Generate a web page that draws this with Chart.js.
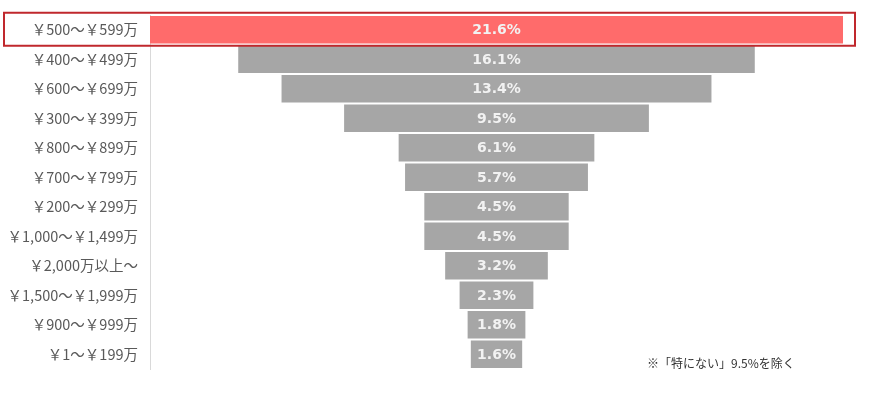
<!DOCTYPE html>
<html>
<head>
<meta charset="utf-8">
<script src="https://cdn.jsdelivr.net/npm/chart.js@4.4.1/dist/chart.umd.min.js"></script>
<style>
  body { margin: 0; background: #fff; }
  #wrap { position: relative; width: 881px; height: 404px; }
  #note {
    position: absolute; left: 647px; top: 354px;
    font: 12px "Noto Sans CJK JP", sans-serif; color: #333;
  }
</style>
</head>
<body>
<div id="wrap">
  <canvas id="funnel" width="881" height="404"></canvas>
  <div id="note">※「特にない」9.5%を除く</div>
</div>
<script>
const categories = [
  '￥500～￥599万', '￥400～￥499万', '￥600～￥699万', '￥300～￥399万',
  '￥800～￥899万', '￥700～￥799万', '￥200～￥299万', '￥1,000～￥1,499万',
  '￥2,000万以上～', '￥1,500～￥1,999万', '￥900～￥999万', '￥1～￥199万',
];
const shares = [21.6, 16.1, 13.4, 9.5, 6.1, 5.7, 4.5, 4.5, 3.2, 2.3, 1.8, 1.6];
const highlightIndex = 0;

const RED = '#ff6b6b';
const GRAY = '#a6a6a6';

// each bar is centred on 0 so the bars form a funnel
const ranges = shares.map((v) => [-v / 2, v / 2]);

const barLabels = {
  id: 'barLabels',
  afterDatasetsDraw(chart) {
    const { ctx } = chart;
    const meta = chart.getDatasetMeta(0);
    ctx.save();
    ctx.font = 'bold 14px "DejaVu Sans", Verdana, sans-serif';
    ctx.fillStyle = '#f2f2f2';
    ctx.textAlign = 'center';
    ctx.textBaseline = 'middle';
    meta.data.forEach((bar, i) => {
      ctx.fillText(`${shares[i].toFixed(1)}%`, (bar.x + bar.base) / 2, bar.y + 1);
    });
    ctx.restore();
  },
};

const highlightBox = {
  id: 'highlightBox',
  afterDraw(chart) {
    const { ctx, chartArea } = chart;
    const yScale = chart.scales.y;
    const yc = yScale.getPixelForValue(highlightIndex);
    ctx.save();
    ctx.strokeStyle = '#c0282d';
    ctx.lineWidth = 2;
    ctx.strokeRect(4, yc - 17, chartArea.right + 12 - 4, 33);
    ctx.restore();
  },
};

new Chart(document.getElementById('funnel'), {
  type: 'bar',
  data: {
    labels: categories,
    datasets: [{
      data: ranges,
      backgroundColor: shares.map((v, i) => (i === highlightIndex ? RED : GRAY)),
      borderWidth: 0,
      barPercentage: 0.94,
      categoryPercentage: 1,
    }],
  },
  options: {
    indexAxis: 'y',
    responsive: false,
    animation: false,
    layout: { padding: { left: 0, right: 38, top: 15, bottom: 35 } },
    plugins: {
      legend: { display: false },
      tooltip: { enabled: false },
    },
    scales: {
      x: {
        display: false,
        min: -10.8,
        max: 10.8,
      },
      y: {
        afterFit: (scale) => {
          scale.width = 150;
          scale.paddingTop = 0;
          scale.paddingBottom = 0;
        },
        grid: { display: false, drawTicks: false },
        border: { display: true, color: '#d9d9d9', width: 1 },
        ticks: {
          padding: 12,
          color: '#595959',
          font: { family: '"Noto Sans CJK JP", sans-serif', size: 14.5 },
        },
      },
    },
  },
  plugins: [barLabels, highlightBox],
});
</script>
</body>
</html>
